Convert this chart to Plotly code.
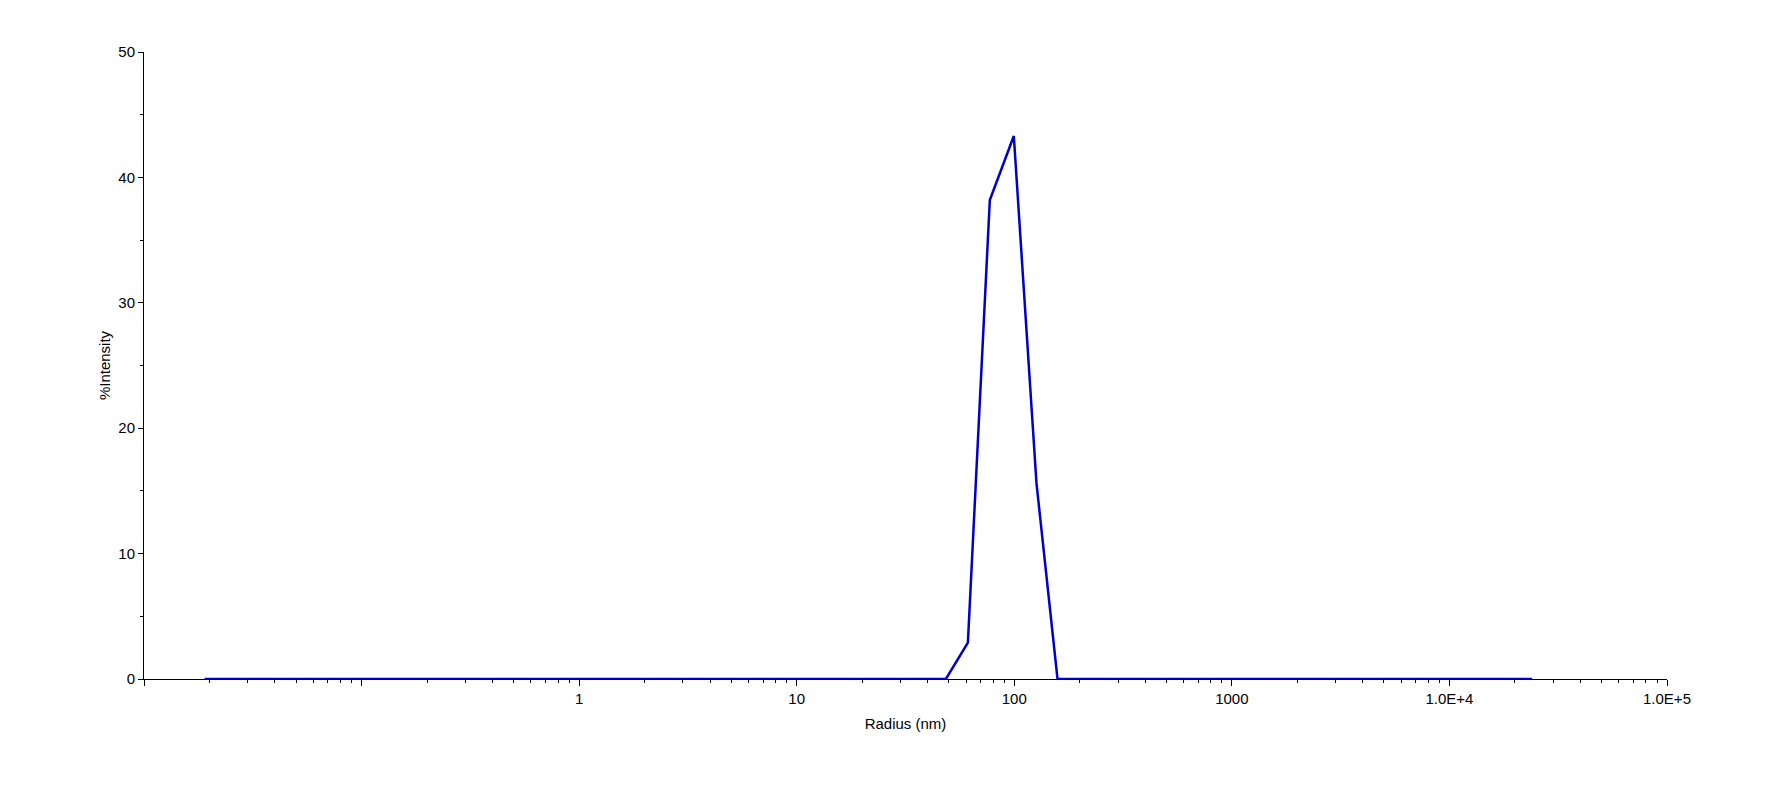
import plotly.graph_objects as go

radius_nm = [0.019, 48.5, 61.2, 77.2, 99.5, 126.5, 158.0, 24000]
intensity_pct = [0.0, 0.0, 2.9, 38.2, 43.3, 15.6, 0.0, 0.0]

x_major = [0.01, 0.1, 1, 10, 100, 1000, 1e4, 1e5]
x_major_text = ["", "", "1", "10", "100", "1000", "1.0E+4", "1.0E+5"]
x_minor = [m * d for d in [0.01, 0.1, 1, 10, 100, 1000, 1e4] for m in range(2, 10)]

y_major = [0, 10, 20, 30, 40, 50]
y_minor = [5, 15, 25, 35, 45]

font = "Liberation Sans, Arial, sans-serif"

fig = go.Figure()
fig.add_trace(go.Scatter(
    x=radius_nm, y=intensity_pct, mode="lines",
    line=dict(color="#0000CC", width=2.5),
    cliponaxis=False, showlegend=False,
))

fig.update_layout(
    width=1755, height=771,
    margin=dict(l=136, r=96, t=44, b=100),
    paper_bgcolor="white", plot_bgcolor="white",
    font=dict(family=font, size=15, color="black"),
)
fig.update_xaxes(
    type="log", range=[-2, 5],
    tickvals=x_major, ticktext=x_major_text,
    ticks="outside", ticklen=6, tickcolor="black", tickwidth=1,
    minor=dict(tickvals=x_minor, ticks="outside", ticklen=3, tickcolor="black", tickwidth=1, showgrid=False),
    showline=True, linecolor="black", linewidth=1,
    showgrid=False, zeroline=False, layer="below traces",
    title=dict(text="Radius (nm)", font=dict(size=15), standoff=12),
    tickfont=dict(size=15),
)
fig.update_yaxes(
    range=[0, 50],
    tickvals=y_major,
    ticks="outside", ticklen=5, tickcolor="black", tickwidth=1,
    minor=dict(tickvals=y_minor, ticks="outside", ticklen=3, tickcolor="black", tickwidth=1, showgrid=False),
    showline=True, linecolor="black", linewidth=1,
    showgrid=False, zeroline=False, layer="below traces",
    title=dict(text="%Intensity", font=dict(size=15), standoff=4),
    tickfont=dict(size=15),
)

fig.write_html("out.html")
